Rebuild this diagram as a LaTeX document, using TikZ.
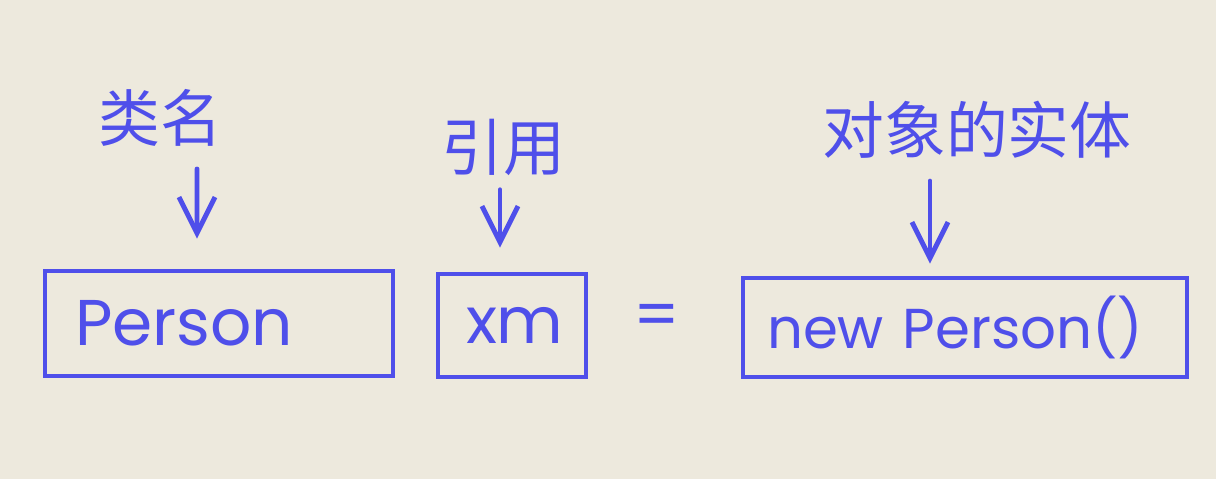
\documentclass[tikz,border=0pt]{standalone}
\usepackage{fontspec}
\setmainfont{Poppins}
\newfontfamily\cjk{Noto Sans CJK SC}
\usetikzlibrary{arrows.meta}
\definecolor{ink}{HTML}{4F4FEA}
\definecolor{paper}{HTML}{EDE9DD}

\begin{document}
\begin{tikzpicture}[>={Straight Barb[length=9mm, width=9mm, line width=3.5pt]},
    line width=3.5pt, color=ink, line cap=round,
    box/.style={draw, rectangle, inner ysep=0pt, align=left, font=\fontsize{46}{50}\selectfont},
    lbl/.style={font=\cjk\fontsize{44}{48}\selectfont, inner sep=0pt}]
\fill[paper] (0,0) rectangle (30.4,11.975);
\useasboundingbox (0,0) rectangle (30.4,11.975);

% boxes
\node[box, minimum height=2.625cm, text width=7.2cm, inner xsep=0.75cm] (P) at (5.475,3.8875) {Person};
\node[box, minimum height=2.575cm, text width=2.3cm, inner xsep=0.7cm] (X) at (12.8,3.8375) {xm};
\node[box, minimum height=2.475cm, text width=9.9cm, inner xsep=0.6cm,
    font=\fontsize{40}{44}\selectfont] (N) at (24.125,3.7875) {\mbox{new Person()}};
\node[font=\fontsize{46}{50}\selectfont] (E) at (16.425,3.95) {=};

% labels
\node[lbl] (C) at (4.0,9.025) {类名};
\node[lbl] (R) at (12.575,8.3) {引用};
\node[lbl] (O) at (24.425,8.725) {对象的实体};

% arrows
\draw[->] ([xshift=0.925cm, yshift=-0.5cm]C.south) -- ([xshift=-0.55cm, yshift=0.75cm]P.north);
\draw[->] ([xshift=-0.075cm, yshift=-0.3cm]R.south) -- ([xshift=-0.3cm, yshift=0.6cm]X.north);
\draw[->] ([xshift=-1.175cm, yshift=-0.5cm]O.south) -- ([xshift=-0.875cm, yshift=0.3cm]N.north);
\end{tikzpicture}
\end{document}
